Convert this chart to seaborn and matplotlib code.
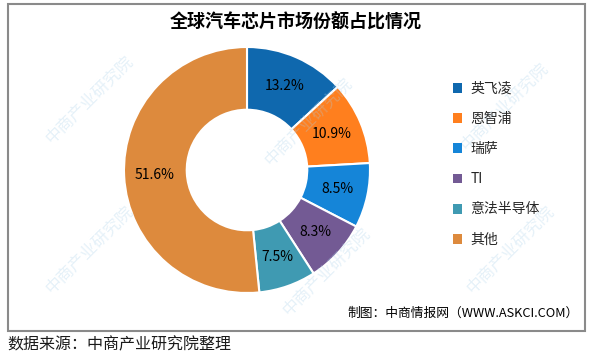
import matplotlib
matplotlib.use("Agg")
import matplotlib.pyplot as plt
from matplotlib.patches import Rectangle, Patch
import seaborn as sns

# data
companies = ["英飞凌", "恩智浦", "瑞萨", "TI", "意法半导体", "其他"]
shares = [13.2, 10.9, 8.5, 8.3, 7.5, 51.6]
colors = ["#0F68AE", "#FF7F1E", "#1585D8", "#735A94", "#3F9AB2", "#DD8A3D"]

sns.set_theme(style="white")
plt.rcParams['font.family'] = ['Noto Sans CJK SC', 'DejaVu Sans']

fig = plt.figure(figsize=(5.93, 3.57), dpi=100)

# faint watermarks
for (wx, wy) in [(0.15, 0.72), (0.52, 0.66), (0.85, 0.70),
                 (0.15, 0.30), (0.55, 0.24), (0.86, 0.30)]:
    fig.text(wx, wy, "中商产业研究院", rotation=45, color="#A9D0EA", alpha=0.3,
             fontsize=12, ha="center", va="center", zorder=0)

# frame
fig.patches.append(Rectangle((8 / 593, 1 - 331 / 357), 577 / 593, 327 / 357,
                             transform=fig.transFigure, fill=False,
                             edgecolor="#8A8A8A", linewidth=1.5, zorder=1))

ax = fig.add_axes([124 / 593, 64 / 357, 246 / 593, 246 / 357])
wedges, texts, autotexts = ax.pie(
    shares, colors=colors, startangle=90, counterclock=False,
    autopct=lambda p: f"{p:.1f}%", pctdistance=0.75,
    wedgeprops=dict(width=0.51, edgecolor="white", linewidth=1.5),
    textprops=dict(fontsize=10, color="black"))
ax.set_xlim(-1, 1)
ax.set_ylim(-1, 1)
ax.set_aspect("equal")
ax.axis("off")

fig.text(296 / 593, 1 - 22 / 357, "全球汽车芯片市场份额占比情况", ha="center", va="center",
         fontsize=13, fontweight="bold", color="black")

handles = [Patch(facecolor=c, edgecolor="none") for c in colors]
fig.legend(handles, companies, loc="upper left", bbox_to_anchor=(440 / 593, 1 - 69 / 357),
           frameon=False, fontsize=10, labelspacing=1.17, handlelength=0.7,
           handleheight=0.7, handletextpad=0.6)

fig.text(579 / 593, 1 - 313 / 357, "制图：中商情报网（WWW.ASKCI.COM）", ha="right",
         va="center", fontsize=9.2, color="black")
fig.text(7 / 593, 1 - 345 / 357, "数据来源：中商产业研究院整理", ha="left", va="center",
         fontsize=11.5, color="#1A1A1A")

fig.savefig("out.png", dpi=100)
